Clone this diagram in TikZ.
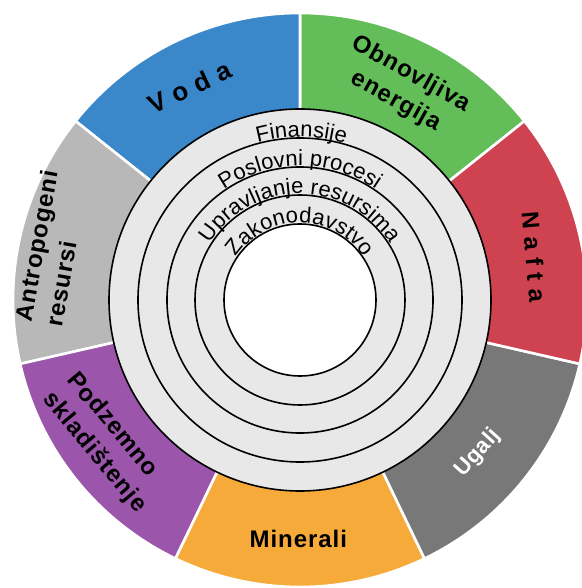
\documentclass[tikz,border=0pt]{standalone}
\usepackage{fontspec}
\setmainfont{Liberation Sans}
\usetikzlibrary{decorations.text}
\definecolor{cObn}{RGB}{99,190,90}
\definecolor{cVoda}{RGB}{58,135,201}
\definecolor{cAntro}{RGB}{184,184,184}
\definecolor{cPodz}{RGB}{155,85,170}
\definecolor{cMin}{RGB}{246,170,58}
\definecolor{cUgalj}{RGB}{120,120,120}
\definecolor{cNafta}{RGB}{207,66,80}
\definecolor{cInner}{RGB}{232,232,232}
\newcommand\innerfont{\fontsize{22}{22}\selectfont}
\newcommand\labfont{\fontsize{24}{31}\selectfont\bfseries\addfontfeatures{LetterSpace=4}}
\newcommand\vodafont{\fontsize{26}{31}\selectfont\bfseries\addfontfeatures{LetterSpace=4}}
\newcommand\ugfont{\fontsize{22}{26}\selectfont\bfseries\addfontfeatures{LetterSpace=3}}
\begin{document}
\begin{tikzpicture}[x=1pt,y=1pt,
  sector/.style={draw=white, line width=2.6pt},
  ringline/.style={draw=black, line width=1.6pt},
  lab/.style={font=\labfont, text=black, inner sep=0pt},
  arctext/.style={decorate, decoration={text along path, text={|\innerfont|#1}, text align={align=fit to path}, raise=1.2pt}}]
\useasboundingbox (-300,-288) rectangle (281,300);
% outer coloured sectors
\foreach \c/\a/\b in {cObn/38.57/90, cVoda/90/141.43, cAntro/141.43/192.86, cPodz/192.86/244.29, cMin/244.29/295.71, cUgalj/295.71/347.14, cNafta/347.14/398.57}
  \filldraw[sector, fill=\c] (\a:185) arc[start angle=\a, end angle=\b, radius=185] -- (\b:287) arc[start angle=\b, end angle=\a, radius=287] -- cycle;
% inner rings
\filldraw[ringline, fill=cInner] (0,0) circle[radius=191];
\draw[ringline] (0,0) circle[radius=162];
\draw[ringline] (0,0) circle[radius=133];
\draw[ringline] (0,0) circle[radius=105];
\filldraw[ringline, fill=white] (0,0) circle[radius=76];
% texts on arcs
\path[arctext={Finansije}] (106:162) arc[start angle=106, end angle=73, radius=162];
\path[arctext={Poslovni procesi}] (127:133) arc[start angle=127, end angle=53, radius=133];
\path[arctext={Upravljanje resursima}] (151:105) arc[start angle=151, end angle=29, radius=105];
\path[arctext={Zakonodavstvo}] (147:76) arc[start angle=147, end angle=33, radius=76];
% sector labels
\node[lab, font=\vodafont, rotate=25] (voda) at (117.5:240) {V o d a};
\node[lab, rotate=-29, align=center] (obn) at (64:236) {Obnovljiva\\energija};
\node[lab, rotate=-85] (nafta) at (10.4:238) {N a f t a};
\node[inner sep=0pt, font=\ugfont, text=white, rotate=48] (ugalj) at (-40.7:234.7) {Ugalj};
\node[lab] (min) at (-90.4:238.5) {Minerali};
\node[lab, rotate=-50, align=left] (podz) at (216.4:240.4) {Podzemno\\skladištenje};
\node[lab, rotate=80, align=left] (antro) at (168.3:253.8) {Antropogeni\\resursi};
\end{tikzpicture}
\end{document}
